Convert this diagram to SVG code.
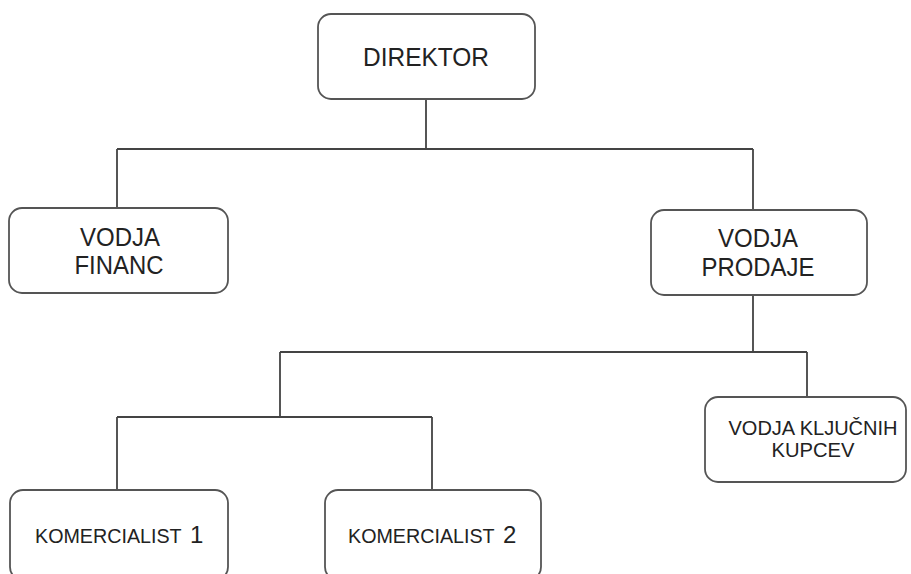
<svg xmlns="http://www.w3.org/2000/svg" width="911" height="574" viewBox="0 0 911 574">
<style>
.box{fill:#fff;stroke:#555;stroke-width:1.8}
.ln{fill:none;stroke:#444;stroke-width:1.8}
text{font-family:"Liberation Sans",Arial,sans-serif;fill:#222;text-anchor:middle}
.big{font-size:25px}
.mid{font-size:21px}
.sm{font-size:19.7px;text-anchor:start}
.num{font-size:24px;text-anchor:start}
</style>
<rect width="911" height="574" fill="#fff"/>
<g id="connectors">
<path class="ln" d="M426 99 V149 M117 149 H753 M117 149 V208 M753 149 V210"/>
<path class="ln" d="M753 295 V352 M280 352 H807 M807 352 V397 M280 352 V417 M117 417 H432 M117 417 V490 M432 417 V490"/>
</g>
<g id="direktor">
<rect class="box" x="318" y="14" width="217" height="85" rx="13"/>
<text class="big" x="426" y="66" textLength="126" lengthAdjust="spacingAndGlyphs">DIREKTOR</text>
</g>
<g id="vodja-financ">
<rect class="box" x="9" y="208" width="219" height="85" rx="13"/>
<text class="big" x="120" y="246" textLength="80" lengthAdjust="spacingAndGlyphs">VODJA</text>
<text class="big" x="119" y="274" textLength="89" lengthAdjust="spacingAndGlyphs">FINANC</text>
</g>
<g id="vodja-prodaje">
<rect class="box" x="651" y="210" width="216" height="85" rx="13"/>
<text class="big" x="758" y="247" textLength="80" lengthAdjust="spacingAndGlyphs">VODJA</text>
<text class="big" x="758" y="276" textLength="113" lengthAdjust="spacingAndGlyphs">PRODAJE</text>
</g>
<g id="vodja-kljucnih">
<rect class="box" x="705" y="397" width="201" height="85" rx="13"/>
<text class="mid" x="813" y="435" textLength="169" lengthAdjust="spacingAndGlyphs">VODJA KLJUČNIH</text>
<text class="mid" x="813" y="457" textLength="83" lengthAdjust="spacingAndGlyphs">KUPCEV</text>
</g>
<g id="komercialist-1">
<rect class="box" x="10" y="490" width="218" height="90" rx="13"/>
<text class="sm" x="35" y="543">KOMERCIALIST</text>
<text class="num" x="190" y="543">1</text>
</g>
<g id="komercialist-2">
<rect class="box" x="325" y="490" width="216" height="90" rx="13"/>
<text class="sm" x="348" y="543">KOMERCIALIST</text>
<text class="num" x="503" y="543">2</text>
</g>
</svg>
